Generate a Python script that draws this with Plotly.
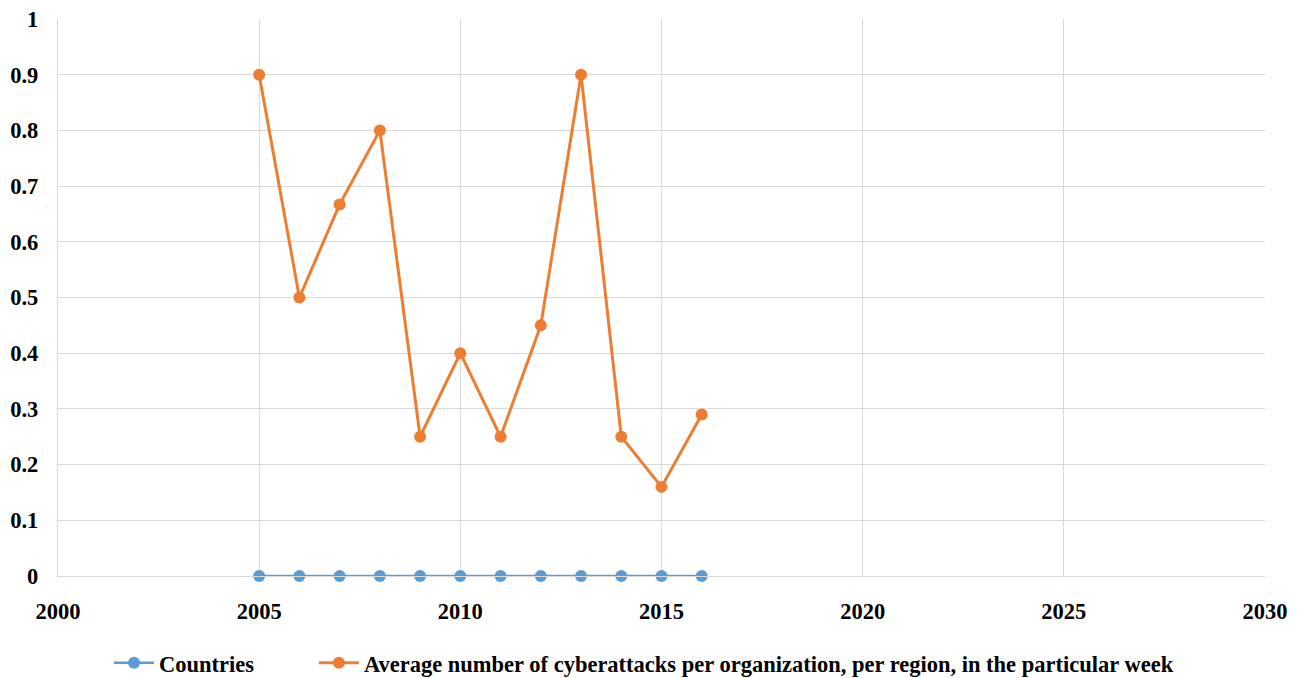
import plotly.graph_objects as go

years = [2005, 2006, 2007, 2008, 2009, 2010, 2011, 2012, 2013, 2014, 2015, 2016]
countries = [0, 0, 0, 0, 0, 0, 0, 0, 0, 0, 0, 0]
avg_attacks = [0.9, 0.5, 0.667, 0.8, 0.25, 0.4, 0.25, 0.45, 0.9, 0.25, 0.16, 0.29]
x_ticks = [2000, 2005, 2010, 2015, 2020, 2025, 2030]
y_ticks = [0, 0.1, 0.2, 0.3, 0.4, 0.5, 0.6, 0.7, 0.8, 0.9, 1]
y_labels = ["0", "0.1", "0.2", "0.3", "0.4", "0.5", "0.6", "0.7", "0.8", "0.9", "1"]

font = dict(family="Liberation Serif", size=22.5, color="black")

fig = go.Figure()
fig.add_trace(go.Scatter(
    x=years, y=countries, mode="lines+markers", name="<b>Countries</b>",
    line=dict(color="#5B9BD5", width=2.5), marker=dict(color="#5B9BD5", size=12),
    cliponaxis=False, legend="legend",
))
fig.add_trace(go.Scatter(
    x=years, y=avg_attacks, mode="lines+markers",
    name="<b>Average number of cyberattacks per organization, per region, in the particular week</b>",
    line=dict(color="#ED7D31", width=3), marker=dict(color="#ED7D31", size=12),
    cliponaxis=False, legend="legend2",
))

leg_common = dict(orientation="h", y=-0.118, yanchor="top", xanchor="left",
                  font=font, bgcolor="rgba(0,0,0,0)", itemwidth=40)

fig.update_layout(
    width=1301, height=678,
    margin=dict(l=50, r=44, t=11, b=110, autoexpand=False),
    paper_bgcolor="white", plot_bgcolor="white",
    font=font,
    showlegend=True,
    legend=dict(x=0.0423, **leg_common),
    legend2=dict(x=0.212, **leg_common),
)
fig.update_xaxes(
    range=[2000, 2030], tickvals=x_ticks, ticktext=[f"<b>{v}</b>" for v in x_ticks],
    showgrid=True, gridcolor="#D9D9D9", gridwidth=1.3,
    showline=True, linecolor="#D9D9D9", linewidth=1.3, zeroline=False,
    ticks="", ticklabelstandoff=15, automargin=False, ticklabeloverflow="allow",
)
fig.update_yaxes(
    range=[0, 1], tickvals=y_ticks, ticktext=[f"<b>{v}</b>" for v in y_labels],
    showgrid=True, gridcolor="#D9D9D9", gridwidth=1.3,
    showline=True, linecolor="#D9D9D9", linewidth=1.3, zeroline=False,
    ticks="", ticklabelstandoff=14, automargin=False, ticklabeloverflow="allow",
)

fig.write_html("out.html")
